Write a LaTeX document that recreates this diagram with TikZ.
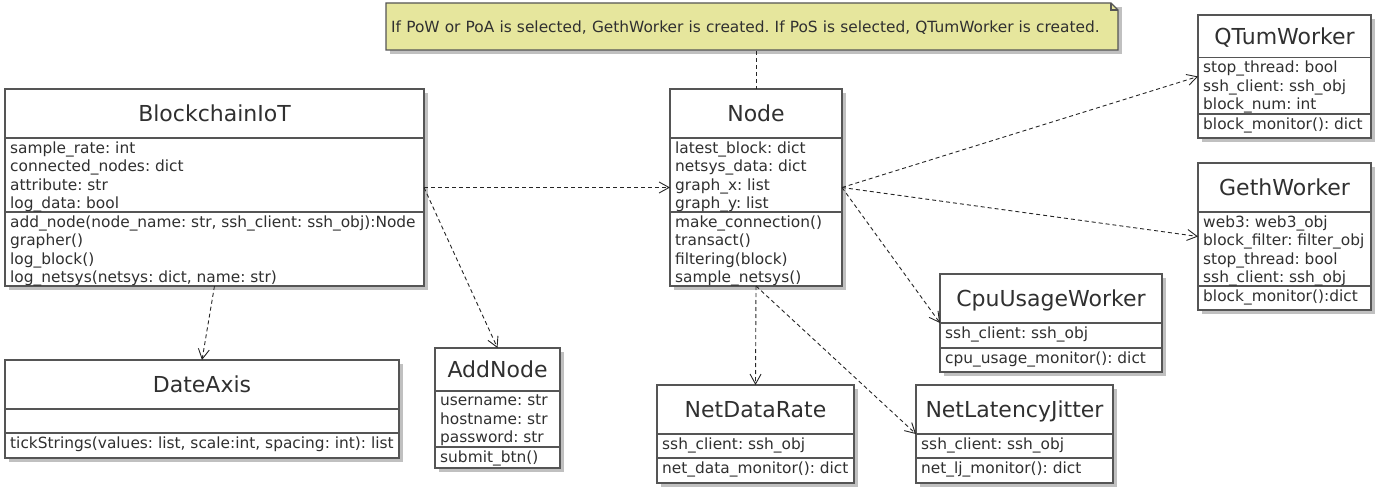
\documentclass[tikz,border=0pt]{standalone}
\usepackage{fontspec}
\setmainfont{DejaVu Sans}
\frenchspacing
\usetikzlibrary{arrows.meta,calc,fit}

\definecolor{notefill}{RGB}{230,230,157}
\definecolor{inkgray}{RGB}{48,48,48}
\definecolor{linegray}{RGB}{85,85,85}
\definecolor{shadowgray}{RGB}{192,192,192}

\tikzset{
  classbox/.style={draw=linegray, line width=1.3pt, fill=white, inner sep=0pt, outer sep=0pt},
  boxshadow/.style={fill=shadowgray},
  classline/.style={draw=linegray, line width=1.3pt},
  classtitle/.style={text=inkgray, font=\fontsize{22}{26}\selectfont, inner sep=0pt},
  classtext/.style={text=inkgray, font=\fontsize{15.4}{18.5}\selectfont, inner sep=0pt, anchor=north west, align=left},
  notebox/.style={text=inkgray, font=\fontsize{15.4}{18.5}\selectfont, inner xsep=5pt, inner ysep=0pt, anchor=north west,
    minimum width=732pt, minimum height=48pt, text width=722pt, align=left},
  dep/.style={draw=black!85, line width=0.9pt, dash pattern=on 4pt off 3pt, -{Straight Barb[length=10pt,width=11pt]}},
  noteline/.style={draw=black!85, line width=0.9pt, dash pattern=on 4pt off 3pt},
}

% class box: name, top left, bottom right, the two divider rows, title, attributes, operations
\def\umlclass#1(#2)(#3)#4#5#6#7#8{%
  \fill[boxshadow] ($(#2)+(4,4)$) rectangle ($(#3)+(4,4)$);
  \node[classbox, fit={(#2) (#3)}] (#1) {};
  \draw[classline] (#1.west |- 0,#4) -- (#1.east |- 0,#4);
  \draw[classline] (#1.west |- 0,#5) -- (#1.east |- 0,#5);
  \node[classtitle, anchor=base] (#1-title) at ($(#1.north)!.5!(#1.north |- 0,#4)+(0,8)$) {#6};
  \node[classtext] (#1-attr) at ($(#1.west |- 0,#4)+(5,3.5)$) {#7};
  \node[classtext] (#1-ops) at ($(#1.west |- 0,#5)+(5,3.5)$) {#8};
}

\begin{document}
\begin{tikzpicture}[x=1pt, y=-1pt]
  \useasboundingbox (0,0) rectangle (1383,489);

  %%%%% NOTE %%%%%
  \fill[boxshadow] (390,7) rectangle (1122,54);
  \filldraw[fill=notefill, draw=linegray, line width=1.3pt] (386,3) -- (1111,3) -- (1118,10) -- (1118,50) -- (386,50) -- cycle;
  \draw[classline] (1111,3) -- (1111,10) -- (1118,10);
  \node[notebox] (note) at (386,3) {If PoW or PoA is selected, GethWorker is created. If PoS is selected, QTumWorker is created.};

  %%%%% CLASSES %%%%%
  \umlclass{bciot}(5,89)(424,286){138}{212}{BlockchainIoT}
    {sample\_rate: int\\connected\_nodes: dict\\attribute: str\\log\_data: bool}
    {add\_node(node\_name: str, ssh\_client: ssh\_obj):Node\\grapher()\\log\_block()\\log\_netsys(netsys: dict, name: str)}

  \umlclass{node}(670,89)(842,286){138}{212}{Node}
    {latest\_block: dict\\netsys\_data: dict\\graph\_x: list\\graph\_y: list}
    {make\_connection()\\transact()\\filtering(block)\\sample\_netsys()}

  \umlclass{qtum}(1198,15)(1371,138){57.5}{114}{QTumWorker}
    {stop\_thread: bool\\ssh\_client: ssh\_obj\\block\_num: int}
    {block\_monitor(): dict}

  \umlclass{geth}(1198,163)(1371,310){212}{286}{GethWorker}
    {web3: web3\_obj\\block\_filter: filter\_obj\\stop\_thread: bool\\ssh\_client: ssh\_obj}
    {block\_monitor():dict}

  \umlclass{cpu}(940,274)(1162,372){323}{348}{CpuUsageWorker}
    {ssh\_client: ssh\_obj}
    {cpu\_usage\_monitor(): dict}

  \umlclass{dateaxis}(5,360)(399,458){409}{433}{DateAxis}
    {}
    {tickStrings(values: list, scale:int, spacing: int): list}

  \umlclass{addnode}(435,348)(560,468){391}{447}{AddNode}
    {username: str\\hostname: str\\password: str}
    {submit\_btn()}

  \umlclass{netdata}(657,385)(854,483){434}{458}{NetDataRate}
    {ssh\_client: ssh\_obj}
    {net\_data\_monitor(): dict}

  \umlclass{netlj}(916,385)(1113,483){434}{458}{NetLatencyJitter}
    {ssh\_client: ssh\_obj}
    {net\_lj\_monitor(): dict}

  %%%%% DEPENDENCIES %%%%%
  \draw[noteline] (note.south -| node.north) -- (node.north);
  \draw[dep] (bciot.east) -- (node.west);
  \draw[dep] (bciot.south) -- (dateaxis.north);
  \draw[dep] (bciot.east) -- (addnode.north);
  \draw[dep] (node.east) -- (qtum.west);
  \draw[dep] (node.east) -- (geth.west);
  \draw[dep] (node.east) -- (cpu.west);
  \draw[dep] (node.south) -- (netdata.north);
  \draw[dep] (node.south) -- (netlj.west);
\end{tikzpicture}
\end{document}
